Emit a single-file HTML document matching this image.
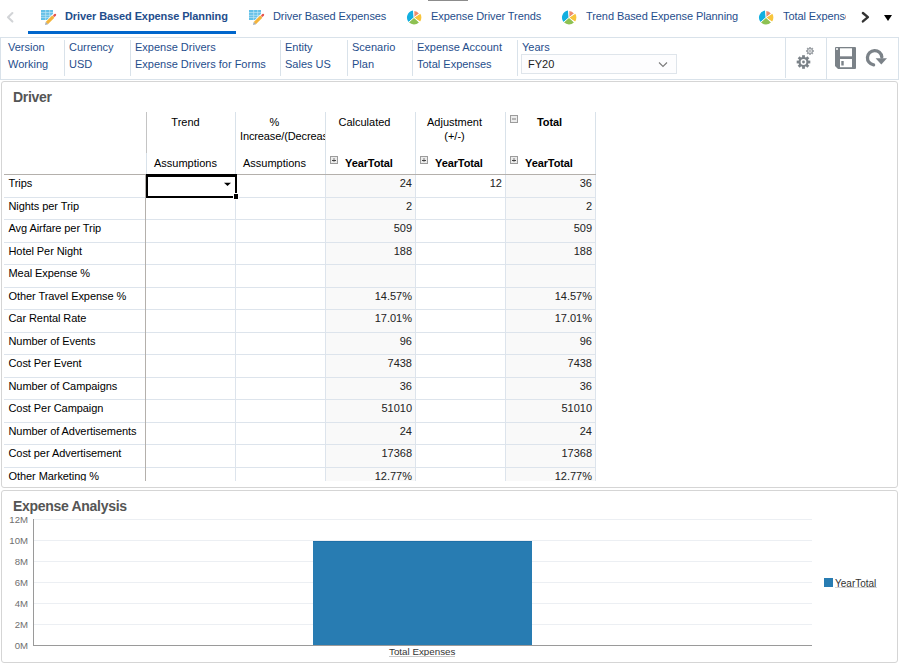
<!DOCTYPE html>
<html><head><meta charset="utf-8">
<style>
*{margin:0;padding:0;box-sizing:border-box}
html,body{width:902px;height:664px;overflow:hidden;background:#fff;font-family:"Liberation Sans",sans-serif;}
.a{position:absolute;white-space:nowrap;line-height:normal}
.tab{font-size:11px;color:#1f4e8c;top:10px;letter-spacing:-0.08px}
.pov{font-size:11px;color:#1f4e8c}
.vl{position:absolute;width:1px;background:#d9e2ea}
.hd{font-size:11px;color:#000}
.hdb{font-size:11px;color:#000;font-weight:bold;letter-spacing:-0.1px}
.lbl{font-size:11px;color:#000;left:8.5px;letter-spacing:-0.07px}
.num{font-size:11px;color:#222;text-align:right}
.yl{font-size:9.6px;color:#6f6f6f;text-align:right;width:28px;left:0px}
.gl{position:absolute;left:34px;width:778px;height:1px;background:#eceff3}
</style></head><body>

<!-- top gray bar -->
<div class="a" style="left:428px;top:0;width:40px;height:1px;background:#8c8c8c"></div>

<!-- tab bar -->
<svg class="a" style="left:5px;top:11px" width="11" height="13" viewBox="0 0 11 13"><path d="M7.4 2L3 6.3L7.4 10.6" fill="none" stroke="#d2d4d7" stroke-width="2.1" stroke-linecap="round" stroke-linejoin="round"/></svg>

<!-- grid+pencil icon -->
<svg class="a" style="left:40px;top:9px" width="17" height="17" viewBox="0 0 17 17">
 <rect x="1" y="1" width="12" height="10" fill="#62c0e8"/>
 <path d="M1 3.6h12M1 6.3h12M1 8.4h12M5.7 1v10M9.7 1v10" stroke="#c4e8f7" stroke-width="0.7"/>
 <path d="M6.2 14.8L14.6 6.4" stroke="#fff" stroke-width="4.6"/>
 <path d="M6.8 14.2L13.3 7.7" stroke="#f4b43a" stroke-width="3.1"/>
 <path d="M14.2 6.8L15.1 5.9" stroke="#e5534b" stroke-width="2.2" stroke-linecap="round"/>
 <path d="M5 16L5.7 13L8.1 15.3Z" fill="#a3abb4"/>
</svg>
<div class="a tab" style="left:65px;font-weight:bold;letter-spacing:-0.1px">Driver Based Expense Planning</div>
<div class="a" style="left:28px;top:31px;width:208px;height:3px;background:#0066cc"></div>

<svg class="a" style="left:248px;top:9px" width="17" height="17" viewBox="0 0 17 17">
 <rect x="1" y="1" width="12" height="10" fill="#62c0e8"/>
 <path d="M1 3.6h12M1 6.3h12M1 8.4h12M5.7 1v10M9.7 1v10" stroke="#c4e8f7" stroke-width="0.7"/>
 <path d="M6.2 14.8L14.6 6.4" stroke="#fff" stroke-width="4.6"/>
 <path d="M6.8 14.2L13.3 7.7" stroke="#f4b43a" stroke-width="3.1"/>
 <path d="M14.2 6.8L15.1 5.9" stroke="#e5534b" stroke-width="2.2" stroke-linecap="round"/>
 <path d="M5 16L5.7 13L8.1 15.3Z" fill="#a3abb4"/>
</svg>
<div class="a tab" style="left:273px">Driver Based Expenses</div>

<svg class="a pie" style="left:406px;top:9px" width="16" height="17" viewBox="-8 -8.5 16 17">
 <path d="M0 0L-5.36 4.50A7.0 7.0 0 0 1 -0.97 -6.93Z" fill="#13afe0"/>
 <path d="M0 0L4.86 5.04A7.0 7.0 0 0 1 -5.04 4.86Z" fill="#8dc152"/>
 <path d="M0 0L6.32 -3.65A7.3 7.3 0 0 1 6.05 4.08Z" fill="#f8c53c"/>
 <path d="M0 0L0.33 -6.39A6.4 6.4 0 0 1 4.90 -4.11Z" fill="#ee8c6c"/>
 <path d="M0 0L-0.63 -8.98M0 0L7.37 -5.16M0 0L6.89 5.79M0 0L-6.69 6.02" stroke="#fff" stroke-width="0.9"/>
</svg>
<div class="a tab" style="left:431px">Expense Driver Trends</div>

<svg class="a pie" style="left:561px;top:9px" width="16" height="17" viewBox="-8 -8.5 16 17">
 <path d="M0 0L-5.36 4.50A7.0 7.0 0 0 1 -0.97 -6.93Z" fill="#13afe0"/>
 <path d="M0 0L4.86 5.04A7.0 7.0 0 0 1 -5.04 4.86Z" fill="#8dc152"/>
 <path d="M0 0L6.32 -3.65A7.3 7.3 0 0 1 6.05 4.08Z" fill="#f8c53c"/>
 <path d="M0 0L0.33 -6.39A6.4 6.4 0 0 1 4.90 -4.11Z" fill="#ee8c6c"/>
 <path d="M0 0L-0.63 -8.98M0 0L7.37 -5.16M0 0L6.89 5.79M0 0L-6.69 6.02" stroke="#fff" stroke-width="0.9"/>
</svg>
<div class="a tab" style="left:586px">Trend Based Expense Planning</div>

<svg class="a pie" style="left:758px;top:9px" width="16" height="17" viewBox="-8 -8.5 16 17">
 <path d="M0 0L-5.36 4.50A7.0 7.0 0 0 1 -0.97 -6.93Z" fill="#13afe0"/>
 <path d="M0 0L4.86 5.04A7.0 7.0 0 0 1 -5.04 4.86Z" fill="#8dc152"/>
 <path d="M0 0L6.32 -3.65A7.3 7.3 0 0 1 6.05 4.08Z" fill="#f8c53c"/>
 <path d="M0 0L0.33 -6.39A6.4 6.4 0 0 1 4.90 -4.11Z" fill="#ee8c6c"/>
 <path d="M0 0L-0.63 -8.98M0 0L7.37 -5.16M0 0L6.89 5.79M0 0L-6.69 6.02" stroke="#fff" stroke-width="0.9"/>
</svg>
<div class="a tab" style="left:783px;width:63px;overflow:hidden">Total Expenses</div>

<svg class="a" style="left:859px;top:10px" width="12" height="15" viewBox="0 0 12 15"><path d="M3.9 3L8.9 7.2L3.9 11.4" fill="none" stroke="#333" stroke-width="2.4" stroke-linecap="round" stroke-linejoin="round"/></svg>
<svg class="a" style="left:883px;top:14px" width="10" height="8" viewBox="0 0 10 8"><path d="M1 1H9L5 7Z" fill="#000"/></svg>

<!-- POV bar -->
<div class="a" style="left:0;top:37px;width:899px;height:43px;border:1px solid #d9e2ea"></div>
<div class="a pov" style="left:8px;top:41px">Version</div>
<div class="a pov" style="left:8px;top:58px">Working</div>
<div class="vl" style="left:64px;top:40px;height:36px"></div>
<div class="a pov" style="left:69px;top:41px">Currency</div>
<div class="a pov" style="left:69px;top:58px">USD</div>
<div class="vl" style="left:130px;top:40px;height:36px"></div>
<div class="a pov" style="left:135px;top:41px">Expense Drivers</div>
<div class="a pov" style="left:135px;top:58px">Expense Drivers for Forms</div>
<div class="vl" style="left:280px;top:40px;height:36px"></div>
<div class="a pov" style="left:285px;top:41px">Entity</div>
<div class="a pov" style="left:285px;top:58px">Sales US</div>
<div class="vl" style="left:347px;top:40px;height:36px"></div>
<div class="a pov" style="left:352px;top:41px">Scenario</div>
<div class="a pov" style="left:352px;top:58px">Plan</div>
<div class="vl" style="left:412px;top:40px;height:36px"></div>
<div class="a pov" style="left:417px;top:41px">Expense Account</div>
<div class="a pov" style="left:417px;top:58px">Total Expenses</div>
<div class="vl" style="left:517px;top:40px;height:36px"></div>
<div class="a pov" style="left:522px;top:41px">Years</div>
<div class="a" style="left:521px;top:54px;width:156px;height:20px;border:1px solid #dfe5eb;background:#fdfdfe"></div>
<div class="a pov" style="left:528px;top:58px;color:#222">FY20</div>
<svg class="a" style="left:658px;top:60px" width="11" height="9" viewBox="0 0 11 9"><path d="M1 2.5L5 6.5L9 2.5" fill="none" stroke="#7a7a7a" stroke-width="1.1"/></svg>
<div class="vl" style="left:785px;top:38px;height:40px"></div>
<div class="vl" style="left:826px;top:38px;height:41px"></div>

<!-- gears -->
<svg class="a" style="left:794px;top:44px" width="24" height="26" viewBox="0 0 24 26">
 <g transform="translate(9.5,18)" fill="#7b8288">
  <circle r="5"/>
  <rect x="-1.4" y="-6.8" width="2.8" height="13.6"/>
  <rect x="-1.4" y="-6.8" width="2.8" height="13.6" transform="rotate(45)"/>
  <rect x="-1.4" y="-6.8" width="2.8" height="13.6" transform="rotate(90)"/>
  <rect x="-1.4" y="-6.8" width="2.8" height="13.6" transform="rotate(135)"/>
  <circle r="2.9" fill="#fff"/>
  <circle r="1.4"/>
 </g>
 <g transform="translate(16,7)" fill="#9a9fa4">
  <circle r="2.9"/>
  <rect x="-0.8" y="-4" width="1.6" height="8"/>
  <rect x="-0.8" y="-4" width="1.6" height="8" transform="rotate(45)"/>
  <rect x="-0.8" y="-4" width="1.6" height="8" transform="rotate(90)"/>
  <rect x="-0.8" y="-4" width="1.6" height="8" transform="rotate(135)"/>
  <circle r="2" fill="#dfe1e3"/><circle r="0.9" fill="#a9adb1"/>
 </g>
</svg>

<!-- save -->
<svg class="a" style="left:835px;top:47px" width="22" height="22" viewBox="0 0 22 22">
 <path d="M1 0H20Q21 0 21 1V21Q21 22 20 22H3L0 19V1Q0 0 1 0Z" fill="#7b8288"/>
 <rect x="5" y="1.3" width="12" height="8" fill="#fff"/>
 <rect x="5" y="12" width="12" height="8.2" fill="#fff"/>
 <rect x="6.3" y="14" width="2.4" height="4.5" fill="#7b8288"/>
 <circle cx="2" cy="2" r="1" fill="#fff"/>
</svg>
<!-- refresh -->
<svg class="a" style="left:864px;top:47px" width="24" height="22" viewBox="0 0 24 22">
 <path d="M9.6 17.9A7.2 7.2 0 1 1 17.8 10" fill="none" stroke="#7b8288" stroke-width="3.3" stroke-linecap="round"/>
 <path d="M11.6 11.2H23L17.3 17.4Z" fill="#7b8288"/>
</svg>

<!-- Driver panel -->
<div class="a" style="left:1px;top:81px;width:897px;height:407px;border:1px solid #d5d5d5;border-radius:3px"></div>
<div class="a" style="left:13px;top:89px;font-size:14px;letter-spacing:-0.3px;font-weight:bold;color:#555">Driver</div>

<!-- grid -->
<div class="a" style="left:0;top:0;width:902px;height:481px;overflow:hidden">
<div class="a" style="left:326px;top:174px;width:89px;height:23px;background:#f9f9f9"></div>
<div class="a" style="left:506px;top:174px;width:89px;height:23px;background:#f9f9f9"></div>
<div class="a lbl" style="top:177px">Trips</div>
<div class="a num" style="left:326px;width:86px;top:177px">24</div>
<div class="a num" style="left:416px;width:86px;top:177px">12</div>
<div class="a num" style="left:506px;width:86px;top:177px">36</div>
<div class="a" style="left:326px;top:197px;width:89px;height:22px;background:#f9f9f9"></div>
<div class="a" style="left:506px;top:197px;width:89px;height:22px;background:#f9f9f9"></div>
<div class="a" style="left:4px;top:197px;width:591px;height:1px;background:#dde4ec"></div>
<div class="a lbl" style="top:200px">Nights per Trip</div>
<div class="a num" style="left:326px;width:86px;top:200px">2</div>
<div class="a num" style="left:506px;width:86px;top:200px">2</div>
<div class="a" style="left:326px;top:219px;width:89px;height:23px;background:#f9f9f9"></div>
<div class="a" style="left:506px;top:219px;width:89px;height:23px;background:#f9f9f9"></div>
<div class="a" style="left:4px;top:219px;width:591px;height:1px;background:#dde4ec"></div>
<div class="a lbl" style="top:222px">Avg Airfare per Trip</div>
<div class="a num" style="left:326px;width:86px;top:222px">509</div>
<div class="a num" style="left:506px;width:86px;top:222px">509</div>
<div class="a" style="left:326px;top:242px;width:89px;height:22px;background:#f9f9f9"></div>
<div class="a" style="left:506px;top:242px;width:89px;height:22px;background:#f9f9f9"></div>
<div class="a" style="left:4px;top:242px;width:591px;height:1px;background:#dde4ec"></div>
<div class="a lbl" style="top:245px">Hotel Per Night</div>
<div class="a num" style="left:326px;width:86px;top:245px">188</div>
<div class="a num" style="left:506px;width:86px;top:245px">188</div>
<div class="a" style="left:326px;top:264px;width:89px;height:23px;background:#f9f9f9"></div>
<div class="a" style="left:506px;top:264px;width:89px;height:23px;background:#f9f9f9"></div>
<div class="a" style="left:4px;top:264px;width:591px;height:1px;background:#dde4ec"></div>
<div class="a lbl" style="top:267px">Meal Expense %</div>
<div class="a" style="left:326px;top:287px;width:89px;height:22px;background:#f9f9f9"></div>
<div class="a" style="left:506px;top:287px;width:89px;height:22px;background:#f9f9f9"></div>
<div class="a" style="left:4px;top:287px;width:591px;height:1px;background:#dde4ec"></div>
<div class="a lbl" style="top:290px">Other Travel Expense %</div>
<div class="a num" style="left:326px;width:86px;top:290px">14.57%</div>
<div class="a num" style="left:506px;width:86px;top:290px">14.57%</div>
<div class="a" style="left:326px;top:309px;width:89px;height:23px;background:#f9f9f9"></div>
<div class="a" style="left:506px;top:309px;width:89px;height:23px;background:#f9f9f9"></div>
<div class="a" style="left:4px;top:309px;width:591px;height:1px;background:#dde4ec"></div>
<div class="a lbl" style="top:312px">Car Rental Rate</div>
<div class="a num" style="left:326px;width:86px;top:312px">17.01%</div>
<div class="a num" style="left:506px;width:86px;top:312px">17.01%</div>
<div class="a" style="left:326px;top:332px;width:89px;height:22px;background:#f9f9f9"></div>
<div class="a" style="left:506px;top:332px;width:89px;height:22px;background:#f9f9f9"></div>
<div class="a" style="left:4px;top:332px;width:591px;height:1px;background:#dde4ec"></div>
<div class="a lbl" style="top:335px">Number of Events</div>
<div class="a num" style="left:326px;width:86px;top:335px">96</div>
<div class="a num" style="left:506px;width:86px;top:335px">96</div>
<div class="a" style="left:326px;top:354px;width:89px;height:23px;background:#f9f9f9"></div>
<div class="a" style="left:506px;top:354px;width:89px;height:23px;background:#f9f9f9"></div>
<div class="a" style="left:4px;top:354px;width:591px;height:1px;background:#dde4ec"></div>
<div class="a lbl" style="top:357px">Cost Per Event</div>
<div class="a num" style="left:326px;width:86px;top:357px">7438</div>
<div class="a num" style="left:506px;width:86px;top:357px">7438</div>
<div class="a" style="left:326px;top:377px;width:89px;height:22px;background:#f9f9f9"></div>
<div class="a" style="left:506px;top:377px;width:89px;height:22px;background:#f9f9f9"></div>
<div class="a" style="left:4px;top:377px;width:591px;height:1px;background:#dde4ec"></div>
<div class="a lbl" style="top:380px">Number of Campaigns</div>
<div class="a num" style="left:326px;width:86px;top:380px">36</div>
<div class="a num" style="left:506px;width:86px;top:380px">36</div>
<div class="a" style="left:326px;top:399px;width:89px;height:23px;background:#f9f9f9"></div>
<div class="a" style="left:506px;top:399px;width:89px;height:23px;background:#f9f9f9"></div>
<div class="a" style="left:4px;top:399px;width:591px;height:1px;background:#dde4ec"></div>
<div class="a lbl" style="top:402px">Cost Per Campaign</div>
<div class="a num" style="left:326px;width:86px;top:402px">51010</div>
<div class="a num" style="left:506px;width:86px;top:402px">51010</div>
<div class="a" style="left:326px;top:422px;width:89px;height:22px;background:#f9f9f9"></div>
<div class="a" style="left:506px;top:422px;width:89px;height:22px;background:#f9f9f9"></div>
<div class="a" style="left:4px;top:422px;width:591px;height:1px;background:#dde4ec"></div>
<div class="a lbl" style="top:425px">Number of Advertisements</div>
<div class="a num" style="left:326px;width:86px;top:425px">24</div>
<div class="a num" style="left:506px;width:86px;top:425px">24</div>
<div class="a" style="left:326px;top:444px;width:89px;height:23px;background:#f9f9f9"></div>
<div class="a" style="left:506px;top:444px;width:89px;height:23px;background:#f9f9f9"></div>
<div class="a" style="left:4px;top:444px;width:591px;height:1px;background:#dde4ec"></div>
<div class="a lbl" style="top:447px">Cost per Advertisement</div>
<div class="a num" style="left:326px;width:86px;top:447px">17368</div>
<div class="a num" style="left:506px;width:86px;top:447px">17368</div>
<div class="a" style="left:326px;top:467px;width:89px;height:22px;background:#f9f9f9"></div>
<div class="a" style="left:506px;top:467px;width:89px;height:22px;background:#f9f9f9"></div>
<div class="a" style="left:4px;top:467px;width:591px;height:1px;background:#dde4ec"></div>
<div class="a lbl" style="top:470px">Other Marketing %</div>
<div class="a num" style="left:326px;width:86px;top:470px">12.77%</div>
<div class="a num" style="left:506px;width:86px;top:470px">12.77%</div>
</div>

<!-- header lines -->
<div class="a" style="left:146px;top:112px;width:1px;height:41px;background:#c4c4c4"></div>
<div class="a" style="left:146px;top:153px;width:1px;height:21px;background:#d9e2ea"></div>
<div class="a" style="left:235px;top:112px;width:1px;height:62px;background:#d9e2ea"></div>
<div class="a" style="left:325px;top:112px;width:1px;height:62px;background:#d9e2ea"></div>
<div class="a" style="left:415px;top:112px;width:1px;height:62px;background:#d9e2ea"></div>
<div class="a" style="left:505px;top:112px;width:1px;height:62px;background:#d9e2ea"></div>
<div class="a" style="left:595px;top:112px;width:1px;height:62px;background:#d9e2ea"></div>
<div class="a" style="left:4px;top:174px;width:592px;height:1px;background:#b4b0ac"></div>

<!-- data col lines -->
<div class="a" style="left:145px;top:175px;width:1px;height:306px;background:#b4b0ac"></div>
<div class="a" style="left:235px;top:175px;width:1px;height:306px;background:#dde4ec"></div>
<div class="a" style="left:325px;top:175px;width:1px;height:306px;background:#dde4ec"></div>
<div class="a" style="left:415px;top:175px;width:1px;height:306px;background:#dde4ec"></div>
<div class="a" style="left:505px;top:175px;width:1px;height:306px;background:#dde4ec"></div>
<div class="a" style="left:595px;top:175px;width:1px;height:306px;background:#dde4ec"></div>

<!-- header texts -->
<div class="a hd" style="left:146px;width:79px;top:116px;text-align:center">Trend</div>
<div class="a hd" style="left:146px;width:79px;top:157px;text-align:center">Assumptions</div>
<div class="a hd" style="left:236px;width:77px;top:116px;text-align:center">%</div>
<div class="a hd" style="left:240px;width:85px;top:130px;overflow:hidden;letter-spacing:-0.12px">Increase/(Decrease)</div>
<div class="a hd" style="left:236px;width:77px;top:157px;text-align:center">Assumptions</div>
<div class="a hd" style="left:326px;width:77px;top:116px;text-align:center">Calculated</div>
<div class="a hd" style="left:416px;width:77px;top:116px;text-align:center">Adjustment</div>
<div class="a hd" style="left:416px;width:77px;top:130px;text-align:center">(+/-)</div>
<div class="a hdb" style="left:537px;top:116px">Total</div>
<svg class="a" width="8" height="8" style="left:510px;top:115px" viewBox="0 0 8 8"><rect x="0.5" y="0.5" width="7" height="7" fill="#ececec" stroke="#9c9c9c"/><rect x="2" y="3" width="4" height="2" fill="#b4b4b4"/></svg>

<svg class="a" width="8" height="8" style="left:330px;top:156px" viewBox="0 0 8 8"><rect x="0.5" y="0.5" width="7" height="7" fill="#ececec" stroke="#9c9c9c"/><rect x="3.5" y="2" width="1" height="4" fill="#7a7a7a"/><rect x="2" y="4" width="4" height="1" fill="#444"/></svg>
<div class="a hdb" style="left:345px;top:157px">YearTotal</div>
<svg class="a" width="8" height="8" style="left:420px;top:156px" viewBox="0 0 8 8"><rect x="0.5" y="0.5" width="7" height="7" fill="#ececec" stroke="#9c9c9c"/><rect x="3.5" y="2" width="1" height="4" fill="#7a7a7a"/><rect x="2" y="4" width="4" height="1" fill="#444"/></svg>
<div class="a hdb" style="left:435px;top:157px">YearTotal</div>
<svg class="a" width="8" height="8" style="left:510px;top:156px" viewBox="0 0 8 8"><rect x="0.5" y="0.5" width="7" height="7" fill="#ececec" stroke="#9c9c9c"/><rect x="3.5" y="2" width="1" height="4" fill="#7a7a7a"/><rect x="2" y="4" width="4" height="1" fill="#444"/></svg>
<div class="a hdb" style="left:525px;top:157px">YearTotal</div>

<!-- selected cell -->
<div class="a" style="left:146px;top:174px;width:91px;height:24px;border:2px solid #000;border-top-width:3px"></div>
<div class="a" style="left:233px;top:193px;width:6px;height:7px;background:#fff"></div>
<div class="a" style="left:234px;top:194px;width:4px;height:5px;background:#000"></div>
<svg class="a" style="left:223px;top:182px" width="9" height="5" viewBox="0 0 9 5"><path d="M1 0.8H8L4.5 4Z" fill="#000"/></svg>

<!-- Chart panel -->
<div class="a" style="left:1px;top:490px;width:897px;height:173px;border:1px solid #d5d5d5;border-radius:3px"></div>
<div class="a" style="left:13px;top:498px;font-size:14px;letter-spacing:-0.3px;font-weight:bold;color:#555">Expense Analysis</div>

<div class="gl" style="top:519px"></div>
<div class="gl" style="top:540px"></div>
<div class="gl" style="top:561px"></div>
<div class="gl" style="top:582px"></div>
<div class="gl" style="top:603px"></div>
<div class="gl" style="top:624px"></div>
<div class="a" style="left:33px;top:519px;width:1px;height:127px;background:#9a9a9a"></div>
<div class="a" style="left:33px;top:645px;width:779px;height:1px;background:#9a9a9a"></div>
<div class="a yl" style="top:514px">12M</div>
<div class="a yl" style="top:535px">10M</div>
<div class="a yl" style="top:556px">8M</div>
<div class="a yl" style="top:577px">6M</div>
<div class="a yl" style="top:598px">4M</div>
<div class="a yl" style="top:619px">2M</div>
<div class="a yl" style="top:640px">0M</div>

<div class="a" style="left:313px;top:541px;width:219px;height:104px;background:#287cb2;border-top:1px solid #1f70a8"></div>
<div class="a" style="left:389px;top:645.5px;font-size:9.8px;color:#333">Total Expenses</div><div class="a" style="left:389px;top:656px;width:66px;height:1px;background:#c8c8c8"></div>

<div class="a" style="left:824px;top:578px;width:9px;height:9px;background:#287cb2"></div>
<div class="a" style="left:835px;top:578px;font-size:10px;color:#333">YearTotal</div><div class="a" style="left:835px;top:587px;width:42px;height:1px;background:#d4d4d4"></div>

</body></html>
